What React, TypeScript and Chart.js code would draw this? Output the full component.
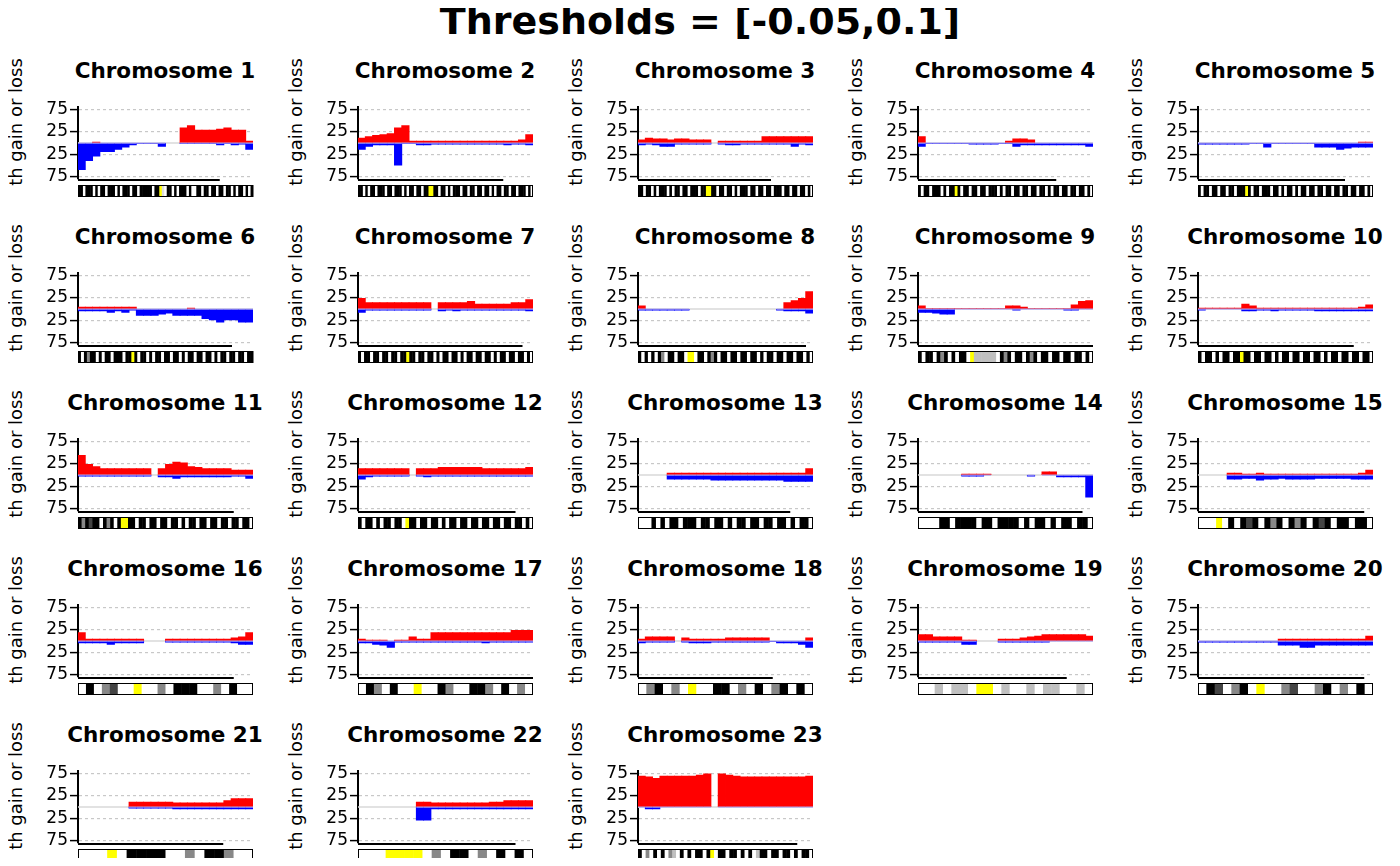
import React, { useEffect, useRef } from "react";
import { Chart, registerables } from "chart.js";
Chart.register(...registerables);

const chromNames = Array.from({ length: 23 }, (_, i) => `Chromosome ${i + 1}`);
const bins = Array.from({ length: 24 }, (_, i) => String(i));
const yTicks = [-75, -50, -25, 0, 25, 50, 75];
const yLabelsShown = [-75, -25, 25, 75];

const gains: number[][] = [
  [0,0,3,0,0,0,0,0,0,0,0,0,0,0,35,40,30,30,30,32,35,30,30,5],
  [12,15,18,20,22,35,40,5,5,5,5,5,5,5,5,5,5,5,5,5,5,5,8,20],
  [8,12,10,10,8,10,10,8,8,8,0,5,5,5,5,5,5,15,15,15,15,15,15,15],
  [15,0,0,0,0,0,0,0,0,0,0,0,5,10,10,8,0,0,0,0,0,0,0,0],
  [0,0,0,0,0,0,0,0,0,0,0,0,0,0,0,0,0,0,0,0,0,0,3,3],
  [5,5,5,5,5,5,5,5,0,0,0,0,0,0,0,3,0,0,0,0,0,0,0,0],
  [25,15,15,15,15,15,15,15,15,15,0,15,15,15,15,18,12,12,12,12,12,15,15,22],
  [8,0,0,0,0,0,0,0,0,0,0,0,0,0,0,0,0,0,0,0,15,20,25,40],
  [8,2,2,2,2,2,2,2,2,2,2,2,8,8,5,2,2,2,2,2,2,10,18,20],
  [3,3,3,3,3,3,12,8,3,3,3,3,3,3,3,3,3,3,3,3,3,3,5,10],
  [45,25,20,15,15,15,15,15,15,15,0,15,25,30,28,20,18,15,15,15,15,12,12,12],
  [15,15,15,15,15,15,15,0,15,15,15,18,18,18,18,18,18,15,15,15,15,15,15,18],
  [0,0,0,0,5,5,5,5,5,5,5,5,5,5,5,5,5,5,5,5,5,5,5,15],
  [0,0,0,0,0,0,3,3,3,3,0,0,0,0,0,0,0,8,8,0,0,0,0,0],
  [0,0,0,0,5,5,3,3,5,3,3,3,3,3,3,3,3,3,3,3,3,3,5,12],
  [20,5,5,5,5,5,5,5,5,0,0,0,5,5,5,5,5,5,5,5,5,8,10,20],
  [5,3,3,3,0,3,3,10,5,5,20,20,20,20,20,20,20,20,20,20,20,25,25,25],
  [5,10,10,10,10,0,8,5,5,5,5,5,8,8,8,8,8,8,0,0,0,0,0,8],
  [15,15,10,10,10,10,3,3,0,0,0,5,5,5,8,10,12,15,15,15,15,15,15,12],
  [0,0,0,0,0,0,0,0,0,0,0,5,5,5,5,5,5,5,5,5,5,5,5,12],
  [0,0,0,0,0,0,0,12,12,12,12,12,12,10,10,10,10,10,10,10,15,20,20,20],
  [0,0,0,0,0,0,0,0,12,12,10,10,10,10,10,10,10,10,12,12,15,15,15,15],
  [70,68,65,70,70,70,70,70,72,75,0,75,72,70,68,68,68,68,68,68,68,68,68,70],
];

const losses: number[][] = [
  [-60,-40,-30,-20,-20,-15,-10,-5,-2,-2,-2,-8,0,0,-2,-2,-2,-2,-2,-5,-2,-5,-3,-15],
  [-15,-8,-5,-5,-5,-50,-2,-2,-5,-5,-3,-3,-3,-3,-3,-3,-3,-3,-3,-3,-5,-3,-3,-5],
  [-5,-3,-5,-8,-8,-3,-3,-3,-3,-3,0,-3,-5,-5,-3,-3,-3,-3,-3,-3,-3,-8,-3,-5],
  [-8,-2,-2,-2,-2,-2,-2,-3,-3,-3,-3,-2,-2,-8,-5,-5,-5,-5,-5,-5,-5,-5,-5,-8],
  [-3,-3,-3,-3,-3,-3,-3,-2,-2,-10,-2,-2,-2,-2,-2,-2,-10,-10,-10,-15,-12,-10,-10,-10],
  [-5,-5,-5,-5,-8,-5,-8,-3,-15,-15,-15,-12,-10,-15,-15,-15,-15,-22,-25,-30,-25,-25,-30,-30],
  [-8,-3,-3,-3,-3,-3,-3,-3,-3,-3,0,-5,-3,-5,-3,-3,-3,-3,-3,-3,-3,-3,-3,-5],
  [-3,-3,-3,-3,-3,-3,-3,0,0,0,0,0,0,0,0,0,0,0,0,-3,-5,-5,-5,-10],
  [-8,-8,-10,-12,-12,0,0,0,0,0,0,0,0,-3,0,0,0,0,0,0,-3,-3,0,0],
  [-3,0,0,0,0,0,-5,-5,-3,-3,-5,-3,-3,-3,-3,-3,-5,-5,-5,-5,-5,-5,-5,-5],
  [-3,-3,-3,-3,-3,-3,-3,-3,-3,-3,0,-5,-5,-8,-5,-5,-5,-5,-5,-5,-5,-3,-3,-8],
  [-10,-5,-3,-3,-3,-3,-3,0,-3,-5,-3,-3,-3,-3,-3,-3,-3,-3,-3,-3,-3,-3,-3,-3],
  [0,0,0,0,-10,-10,-10,-10,-10,-10,-12,-12,-12,-12,-12,-12,-12,-12,-12,-12,-15,-15,-15,-15],
  [0,0,0,0,0,0,-3,-3,-3,0,0,0,0,0,0,-3,0,0,0,-5,-5,-5,-5,-50],
  [0,0,0,0,-10,-10,-8,-8,-12,-10,-10,-8,-10,-10,-10,-10,-8,-8,-8,-8,-8,-10,-10,-10],
  [-5,-5,-5,-5,-8,-5,-5,-5,-5,0,0,0,-3,-3,-3,-3,-3,-3,-3,-3,-3,-5,-8,-8],
  [-5,-5,-8,-10,-15,-3,-3,-3,-3,-3,-3,-3,-3,-3,-3,-3,-3,-5,-3,-3,-3,-3,-3,-3],
  [-5,-3,-3,-3,-3,0,-3,-5,-5,-5,-3,-3,-3,-3,-3,-3,-3,-3,-2,-5,-5,-5,-8,-15],
  [-3,-3,-3,-3,-3,-3,-8,-8,0,0,0,-3,-3,-3,-3,-3,-3,-3,0,0,0,0,0,0],
  [-3,-3,-3,-3,-3,-3,-3,-3,-3,-3,-3,-10,-10,-10,-15,-15,-10,-10,-10,-10,-10,-10,-10,-10],
  [0,0,0,0,0,0,0,-3,-3,-3,-3,-3,-3,-5,-5,-5,-5,-5,-5,-5,-5,-5,-5,-5],
  [0,0,0,0,0,0,0,0,-30,-30,-5,-5,-5,-5,-5,-5,-5,-5,-5,-5,-5,-5,-5,-5],
  [0,-5,-5,0,0,0,0,0,0,0,0,0,0,0,0,0,0,0,0,0,0,0,0,0],
];

// fraction of panel width covered by the bottom x-axis line
const axisFrac = [0.81,0.83,0.76,0.79,0.84,0.88,0.94,0.96,1.0,0.89,0.89,0.9,0.87,0.94,0.95,0.89,1.0,0.77,0.85,0.95,0.83,0.9,0.91];

// ideogram bands: k black, d dark gray, g gray, l light gray, w white, y centromere, s stalk
const bands = [
  "kkwkkkwkwkkwkkkwkwkkkwkkwkkkkkwkkyxwkkwkwkkkwkwwkkwkkwkkwkkwkkwkwkkwkwk",
  "kkwkwkkwkkkwkkwkkkwkwkkwkkwkkyykkwkkwkwkkkwkkwkkwkkwkkwkwkkwkkwkkwkkkwkw",
  "kkwkkwkwkkkwkwkkwkkwkkkwkkyykkwkkwkkwkwkkkwkkwkkwkkwkkkwkkwkkwkkwkw",
  "kwkkwkkkwkwkkykwkkwkkwkkwkkkwkwkkwkkwkkwkkwkkwkwkkwkkwkkwkkwkw",
  "kwkkwkkwkkwkkwkkkykwkkwkkkwkkwkwkkwkwkkwkkwkkwkkwkkwkkwkkwkkwkw",
  "kwkgkkwkwkkwkkkwkkykwkkwkwkkwkkwkkwkwkkwkkwkkwkwkkwkkwkkwkk",
  "kwkkwkkwkkwkkwkkykkwkkwkkwkwkkwkkwkwkkwkkwkkwkwkkwkkwkkwkw",
  "kwkwkwkgwkkwkkwyywkkwkgkwkkwkkwkkwkkwkwkkwkkwkkwkkwkw",
  "kwkkwkgkwkwkkwyllllllwkgkwkkwkgkwkkwkkwkkwkkwkw",
  "kwkkwkwkkwkkykkwkkwkkwkwkkwkkwkkwkkwkwkkwkkwkkwkkw",
  "kgkdkkwkgkwkyykkwkkwkkwkkwkkwkwkkwkkwkkwkkwkkwkkw",
  "kwkkwkwkkwkkwykkwkkwkkwkwkkwkkwkkwkkwkkwkkwkkwkw",
  "sswkwkwkkwkkkwkkwkkwkwkkwkkwkkwkkwkwkkw",
  "sswwkkwkkkkwkkwkkkkwkwkkwkwkkwkkw",
  "sswywkwkdkwkgkwkgkwkdkwkkwkkw",
  "wkwgdwwywwgwkkkwwgwkww",
  "wkgwkwwywwkgwwkkgwkwgw",
  "wgkwgwywwkkwgwkwgkwkw",
  "wwlwllwyywlwwlwllwwlw",
  "wkdwgkwywwgdwwgkwgwkw",
  "swwywkkkkwwgwkkgww",
  "swwyyyywgwkkwgwkwkw",
  "kwgwkwkwglwkwkwkkwkywkkwkkwkwkwlkkwkkwkkwkwkkw",
];

const bandColor: Record<string, string> = {
  k: "#000000", d: "#444444", g: "#888888", l: "#c0c0c0", w: "#ffffff", y: "#ffff00", s: "#ffffff", x: "#dddddd",
};

const FONT = "'DejaVu Sans', sans-serif";

function Panel({ idx }: { idx: number }) {
  const ref = useRef<HTMLCanvasElement>(null);
  useEffect(() => {
    const overlay = {
      id: "overlay",
      beforeDatasetsDraw(chart: any) {
        const { ctx, chartArea } = chart;
        const y0 = chart.scales.y.getPixelForValue(0);
        ctx.save();
        ctx.strokeStyle = "#d8d8d8";
        ctx.lineWidth = 1.5;
        ctx.beginPath();
        ctx.moveTo(chartArea.left, y0);
        ctx.lineTo(chartArea.right, y0);
        ctx.stroke();
        ctx.restore();
      },
      afterDatasetsDraw(chart: any) {
        const { ctx, chartArea } = chart;
        const y0 = chart.scales.y.getPixelForValue(0);
        const xs = chart.scales.x;
        const g = gains[idx];
        const w = chartArea.right - chartArea.left;
        ctx.save();
        ctx.strokeStyle = "#b0a8f0";
        ctx.lineWidth = 1.2;
        g.forEach((v, i) => {
          if (v === 0 && losses[idx][i] === 0) return;
          const half = (xs.getPixelForValue(1) - xs.getPixelForValue(0)) / 2;
          const cx = xs.getPixelForValue(i);
          ctx.beginPath();
          ctx.moveTo(cx - half, y0);
          ctx.lineTo(cx + half, y0);
          ctx.stroke();
        });
        ctx.strokeStyle = "#000";
        ctx.lineWidth = 2;
        ctx.beginPath();
        ctx.moveTo(chartArea.left, chartArea.bottom + 1);
        ctx.lineTo(chartArea.left + w * axisFrac[idx], chartArea.bottom + 1);
        ctx.stroke();
        const b = bands[idx];
        const top = chartArea.bottom + 6;
        const h = 12;
        const bw = w / b.length;
        for (let i = 0; i < b.length; i++) {
          ctx.fillStyle = bandColor[b[i]] || "#fff";
          const x = chartArea.left + i * bw;
          if (b[i] === "s") {
            ctx.fillRect(x, top + 3, bw + 0.5, h - 6);
          } else {
            ctx.fillRect(x, top, bw + 0.5, h);
          }
        }
        ctx.strokeStyle = "#000";
        ctx.lineWidth = 1;
        ctx.strokeRect(chartArea.left + 0.5, top + 0.5, w - 1, h - 1);
        ctx.restore();
      },
    };
    const chart = new Chart(ref.current!, {
      type: "bar",
      data: {
        labels: bins,
        datasets: [
          { data: gains[idx], backgroundColor: "#ff0000", borderWidth: 0, categoryPercentage: 1, barPercentage: 1.12, grouped: false } as any,
          { data: losses[idx], backgroundColor: "#0000ff", borderWidth: 0, categoryPercentage: 1, barPercentage: 1.12, grouped: false } as any,
        ],
      },
      options: {
        animation: false,
        responsive: false,
        events: [],
        layout: { padding: { top: 8, right: 27, bottom: 21, left: 0 } },
        plugins: { legend: { display: false }, tooltip: { enabled: false } },
        scales: {
          x: { display: false },
          y: {
            min: -80,
            max: 80,
            afterFit(scale: any) { scale.width = 48; },
            afterBuildTicks(scale: any) { scale.ticks = yTicks.map((v) => ({ value: v })); },
            ticks: {
              color: "#000",
              font: { family: FONT, size: 17 },
              padding: 2,
              callback: (v: any) => (yLabelsShown.includes(Number(v)) ? String(Math.abs(Number(v))) : ""),
            },
            grid: {
              color: (c: any) => (c.tick && c.tick.value === 0 ? "rgba(0,0,0,0)" : "#c8c8c8"),
              tickColor: "#000",
              tickLength: 8,
              tickWidth: 1.5,
              tickBorderDash: [],
              lineWidth: 1.2,
            },
            border: { display: true, color: "#000", width: 2, dash: [3, 3] },
          },
        },
      },
      plugins: [overlay],
    });
    return () => chart.destroy();
  }, [idx]);

  const col = idx % 5;
  const row = Math.floor(idx / 5);
  return (
    <div style={{ position: "absolute", left: col * 280, top: 50 + row * 166, width: 280, height: 160 }}>
      <div style={{ position: "absolute", left: 40, width: 250, top: 8, textAlign: "center", fontFamily: FONT, fontWeight: "bold", fontSize: 21.5, lineHeight: "26px", whiteSpace: "nowrap" }}>
        {chromNames[idx]}
      </div>
      <div style={{ position: "absolute", left: 15, top: 72, width: 0, height: 0 }}>
        <div style={{ position: "absolute", transform: "translate(-50%,-50%) rotate(-90deg)", fontFamily: FONT, fontSize: 18, whiteSpace: "nowrap" }}>
          th gain or loss
        </div>
      </div>
      <canvas ref={ref} width={250} height={105} style={{ position: "absolute", left: 30, top: 45, width: 250, height: 105 }} />
    </div>
  );
}

export default function App() {
  return (
    <div style={{ position: "relative", width: 1400, height: 866, margin: -8, background: "#fff", overflow: "hidden" }}>
      <div style={{ position: "absolute", left: 0, width: 1400, top: 0, textAlign: "center", fontFamily: FONT, fontWeight: "bold", fontSize: 38, lineHeight: "42px" }}>
        Thresholds = [-0.05,0.1]
      </div>
      {chromNames.map((_, i) => (
        <Panel key={i} idx={i} />
      ))}
    </div>
  );
}
